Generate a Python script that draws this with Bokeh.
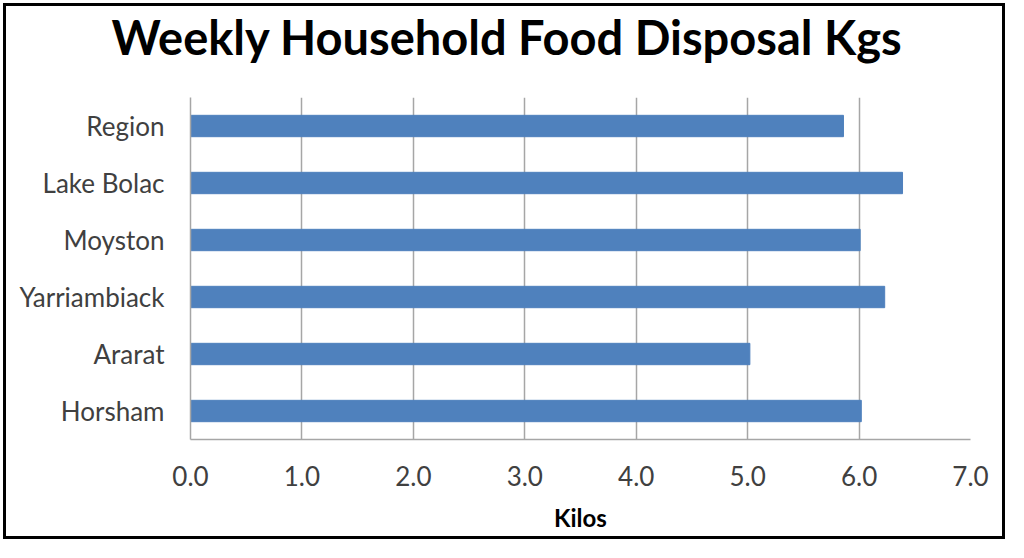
from bokeh.plotting import figure
from bokeh.models import Range1d, FixedTicker, NumeralTickFormatter, Title
from bokeh.embed import file_html
from bokeh.resources import INLINE

categories = ["Region", "Lake Bolac", "Moyston", "Yarriambiack", "Ararat", "Horsham"]
kilos = [5.86, 6.39, 6.01, 6.23, 5.02, 6.02]
x_ticks = [0, 1, 2, 3, 4, 5, 6, 7]

factors = list(reversed(categories))

p = figure(
    width=1008, height=542,
    y_range=factors, x_range=Range1d(0, 7),
    output_backend="svg", toolbar_location=None,
    min_border_left=190, min_border_right=38, min_border_top=97, min_border_bottom=103,
    title="Weekly Household Food Disposal Kgs",
)
p.styles = {
    "background-color": "white",
    "box-shadow": "inset 0 0 0 3px white, inset 0 0 0 6px black",
}

p.hbar(y=categories, right=kilos, left=0, height=0.375, color="#4F81BD")

p.title.align = "left"
p.title.text_font = "Lato"
p.title.text_font_size = "47px"
p.title.text_font_style = "bold"
p.title.text_color = "#000000"
p.title.offset = -79
p.title.standoff = 0

# spacer between the title and the plot area
p.add_layout(Title(text=" ", text_font_size="2px", standoff=29), "above")

p.xaxis.ticker = FixedTicker(ticks=x_ticks)
p.xaxis.formatter = NumeralTickFormatter(format="0.0")
p.xaxis.axis_label = "Kilos"
p.xaxis.axis_label_text_font = "Lato"
p.xaxis.axis_label_text_font_style = "bold"
p.xaxis.axis_label_text_font_size = "24px"
p.xaxis.axis_label_text_color = "#000000"
p.xaxis.axis_label_standoff = 14
for ax in (p.xaxis, p.yaxis):
    ax.major_label_text_font = "Lato"
    ax.major_label_text_font_size = "26px"
    ax.major_label_text_color = "#404040"
    ax.major_tick_line_color = None
    ax.minor_tick_line_color = None
    ax.axis_line_color = "#A6A6A6"
    ax.axis_line_width = 1.5
p.xaxis.major_label_standoff = 20
p.yaxis.major_label_standoff = 20

p.xgrid.grid_line_color = "#A6A6A6"
p.xgrid.grid_line_width = 1.5
p.ygrid.grid_line_color = None
p.outline_line_color = None
p.background_fill_color = "white"
p.border_fill_alpha = 0

open("out.html", "w").write(file_html(p, INLINE))
